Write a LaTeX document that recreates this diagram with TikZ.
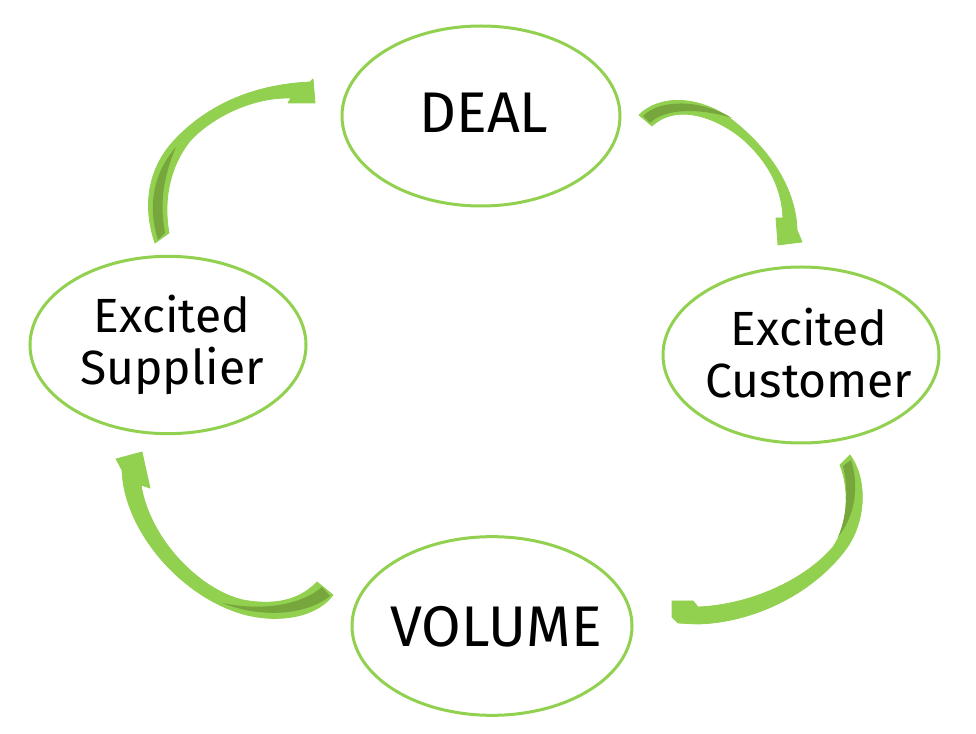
\documentclass[tikz,border=0pt]{standalone}
\usepackage{fontspec}
\setmainfont{Fira Sans}
\usetikzlibrary{shapes.geometric}
\definecolor{lgreen}{HTML}{92D050}
\definecolor{dgreen}{HTML}{76A63C}
\begin{document}
\begin{tikzpicture}[x=0.75pt,y=-0.75pt,
  oval/.style={ellipse,draw=lgreen,line width=2.25pt,fill=white,inner sep=0pt},
  lbl/.style={align=center,font=\fontsize{36}{39}\selectfont,text=black},
  big/.style={font=\fontsize{43}{46}\selectfont},
  ribbon/.style={fill=lgreen,draw=lgreen,line width=0.6pt,line join=round},
  under/.style={fill=dgreen,draw=none}]
\useasboundingbox (0,0) rectangle (976,734);
% ellipses
\node[oval,minimum width=208.5pt,minimum height=135pt] (deal) at (481,116) {};
\node[oval,minimum width=207pt,minimum height=133pt] (sup) at (168,345) {};
\node[oval,minimum width=207pt,minimum height=132pt] (cus) at (801,355) {};
\node[oval,minimum width=210pt,minimum height=134pt] (vol) at (492,626) {};
% labels
\node[lbl,big] (tdeal) at (484,113) {DEAL};
\node[lbl] (tsup) at (172,345) {Excited\\Supplier};
\node[lbl] (tcus) at (809,353) {Excited\\Customer};
\node[lbl,big] (tvol) at (496,627) {VOLUME};
% arrow 1: supplier -> deal
\path[ribbon] (155,243) .. controls (142,205) and (149,170) .. (171,144)
  .. controls (200,111) and (245,85) .. (310,82) -- (313,79) -- (315,103) -- (288,103) -- (291,98)
  .. controls (250,97) and (210,119) .. (190,141)
  .. controls (170,166) and (163,200) .. (169,233) -- cycle;
\path[under] (158,240) .. controls (147,205) and (154,172) .. (176,147)
  .. controls (162,180) and (160,205) .. (165,233) -- cycle;
% arrow 2: deal -> customer
\path[ribbon] (639,115) .. controls (660,94) and (700,96) .. (731,119)
  .. controls (771,150) and (796,190) .. (797,230) -- (802,242) -- (778,245) -- (776,218) -- (783,218)
  .. controls (782,190) and (770,165) .. (747,143)
  .. controls (725,122) and (680,100) .. (652,126) -- cycle;
\path[under] (643,116) .. controls (660,99) and (700,99) .. (732,118)
  .. controls (700,108) and (665,108) .. (650,123) -- cycle;
% arrow 3: customer -> volume
\path[ribbon] (850,455) .. controls (867,478) and (867,520) .. (846,549)
  .. controls (811,596) and (750,623) .. (697,624) -- (678,623) -- (672,617) -- (672,601) -- (693,601) -- (698,607)
  .. controls (750,605) and (805,580) .. (833,547)
  .. controls (848,525) and (850,490) .. (840,465) -- cycle;
\path[under] (843,466) .. controls (848,485) and (848,515) .. (838,537)
  .. controls (856,515) and (859,485) .. (851,460) -- cycle;
% arrow 4: volume -> supplier
\path[ribbon] (333,595) .. controls (315,619) and (275,623) .. (243,614)
  .. controls (180,596) and (124,530) .. (122,470) -- (116,459) -- (142,452) -- (150,488) -- (141,485)
  .. controls (150,540) and (200,590) .. (243,600)
  .. controls (275,606) and (300,600) .. (317,582) -- cycle;
\path[under] (322,587) .. controls (300,606) and (260,611) .. (222,603)
  .. controls (260,618) and (305,616) .. (330,596) -- cycle;
\end{tikzpicture}
\end{document}
